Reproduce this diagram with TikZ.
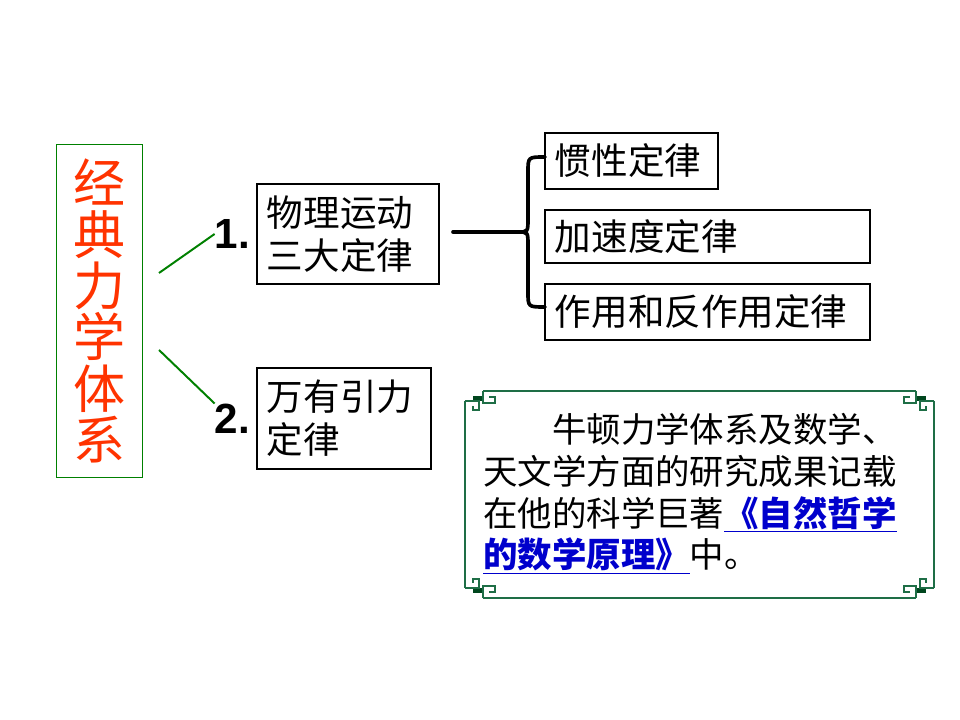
\documentclass[tikz,border=0pt]{standalone}
\usepackage{fontspec}
\setmainfont{Liberation Sans}
\newfontfamily\cjk{Noto Sans CJK SC}
\usepackage{tikz}
\usetikzlibrary{positioning}
\usepackage{xcolor}
\definecolor{kred}{RGB}{255,51,0}
\definecolor{kgreen}{RGB}{0,128,0}
\definecolor{kframe}{RGB}{30,110,70}
\definecolor{kdark}{RGB}{0,70,30}
\definecolor{klink}{RGB}{0,0,204}
\tikzstyle{branch} = [line width=1.4pt, color=kgreen]
\tikzstyle{brace} = [line width=2.6pt, color=black, line cap=round]
\tikzstyle{frameline} = [line width=1.3pt, color=kframe]

% one ornament corner, corner at origin, axes pointing into the box
\newcommand{\fretcorner}{%
  \fill[kdark] (8,5) rectangle (18,10);
  \draw[frameline] (18,0) -- (18,12) -- (30,12) -- (30,6) -- (24,6);
  \draw[frameline] (0,10) -- (14,10) -- (14,19) -- (8,19) -- (8,15);
}
\newcommand{\booklink}[1]{{\color{klink}\smash{\bfseries\underline{#1}}}}

\begin{document}
\begin{tikzpicture}[x=0.025cm, y=-0.025cm,
    title/.style={rectangle, draw=kgreen, line width=0.7pt, text=kred, font=\cjk\fontsize{37}{36.5}\selectfont, align=center, minimum width=2.125cm, minimum height=8.325cm, inner sep=0pt},
    lawbox/.style={rectangle, draw, line width=0.9pt, font=\cjk\fontsize{26}{30.6}\selectfont, align=left, inner xsep=0.25cm, inner ysep=0pt},
    num/.style={font=\bfseries\fontsize{30}{30}\selectfont, inner sep=0pt},
    note/.style={font=\cjk\fontsize{24.5}{29.7}\selectfont, align=left, inner sep=0pt}]

\useasboundingbox (0,0) rectangle (960,720);

% Title
\node[title] (classic) at (99.5,311) {经\\典\\力\\学\\体\\系};

% Two branches
\node[lawbox, text width=4.05cm, minimum height=2.5cm] (motion) at (348,234) {物理运动\\三大定律};
\node[lawbox, text width=3.85cm, minimum height=2.525cm] (gravity) at (344,418.5) {万有引力\\定律};
\node[num, left=0.15cm of motion] (num1) {1.};
\node[num, left=0.15cm of gravity] (num2) {2.};

\coordinate (g1) at (159,273);
\coordinate (g2) at (159,350);
\draw[branch] (g1) -- (num1.west);
\draw[branch] (g2) -- (num2.north west);

% Three laws
\node[lawbox, text width=3.825cm, minimum height=1.4cm] (inertia) at (631.5,161) {惯性定律};
\node[lawbox, text width=7.625cm, minimum height=1.325cm] (accel) at (707.5,236.5) {加速度定律};
\node[lawbox, text width=7.625cm, minimum height=1.4cm] (action) at (707.5,312) {作用和反作用定律};

% Brace
\coordinate (hs) at (453,232);
\coordinate (bm) at (518,232);
\coordinate (bt) at (545,157);
\coordinate (bb) at (545,307);
\draw[brace] (hs) -- (bm);
\draw[brace] (bt) .. controls (528,157) .. (528,172) -- (528,218) .. controls (528,232) .. (bm);
\draw[brace] (bm) .. controls (528,232) .. (528,246) -- (528,292) .. controls (528,307) .. (bb);

% Note frame
\draw[frameline] (483,391) -- (916,391);
\draw[frameline] (483,598) -- (916,598);
\draw[frameline] (465,401) -- (465,588);
\draw[frameline] (934,401) -- (934,588);
\begin{scope}[shift={(465,391)}] \fretcorner \end{scope}
\begin{scope}[shift={(934,391)}, xscale=-1] \fretcorner \end{scope}
\begin{scope}[shift={(465,598)}, yscale=-1] \fretcorner \end{scope}
\begin{scope}[shift={(934,598)}, xscale=-1, yscale=-1] \fretcorner \end{scope}

\node[note, anchor=north west] (newton) at (483,413) {\hspace*{2em}牛顿力学体系及数学、\\天文学方面的研究成果记载\\在他的科学巨著\booklink{《自然哲学}\\\booklink{的数学原理》}中。};

\end{tikzpicture}
\end{document}
